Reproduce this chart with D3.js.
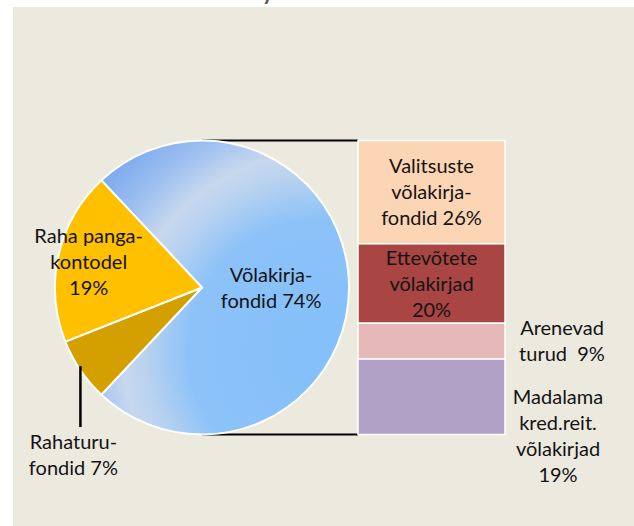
<!DOCTYPE html>
<html>
<head>
<meta charset="utf-8">
<script src="https://cdn.jsdelivr.net/npm/d3@7/dist/d3.min.js"></script>
<style>
    html, body { margin: 0; padding: 0; background: #fff; }
    svg text { font-family: Lato, "Noto Sans", sans-serif; fill: #141414; white-space: pre; }
</style>
</head>
<body>
<script>
(function(window){
    'use strict'

    // main pie
    var pieNames = ["Võlakirjafondid", "Rahaturufondid", "Raha pangakontodel"];
    var pieValues = [74, 7, 19];
    var pieLabelLines = [["Võlakirja-", "fondid 74%"], ["Rahaturu-", "fondid 7%"], ["Raha panga-", "kontodel", "19%"]];
    var pieColors = ["url(#blueFill)", "#d4a000", "#ffc000"];

    // split of the first slice
    var barNames = ["Valitsuste võlakirjafondid", "Ettevõtete võlakirjad", "Arenevad turud", "Madalama kred.reit. võlakirjad"];
    var barValues = [26, 20, 9, 19];
    var barLabelLines = [["Valitsuste", "võlakirja-", "fondid 26%"], ["Ettevõtete", "võlakirjad", "20%"], ["Arenevad", "turud  9%"], ["Madalama", "kred.reit.", "võlakirjad", "19%"]];
    var barColors = ["#fcd5b5", "#a94543", "#e6b9b8", "#b2a1c7"];

    var config = {
        width: 634,
        height: 526,
        cx: 202,
        cy: 287.5,
        radius: 147,
        barX: 358,
        barW: 147,
        lineH: 26,
        fontSize: 20
    };

    var svg = d3.select("body").append("svg")
        .attr("width", config.width)
        .attr("height", config.height);

    var defs = svg.append("defs");
    var grad = defs.append("radialGradient")
        .attr("id", "blueFill")
        .attr("gradientUnits", "userSpaceOnUse")
        .attr("cx", 320).attr("cy", 350).attr("r", 290)
        .attr("fx", 320).attr("fy", 350);
    [[0, "#84c0fa"], [0.45, "#8cc2f8"], [0.6, "#b8d2f0"], [0.68, "#c7d8ee"], [0.8, "#9fc0f0"], [1, "#70a3ef"]].forEach(function(s) {
        grad.append("stop").attr("offset", s[0]).attr("stop-color", s[1]);
    });

    // background panel
    svg.append("rect")
        .attr("x", 13).attr("y", 7)
        .attr("width", config.width - 13).attr("height", config.height - 7)
        .attr("fill", "#ece9df");

    // bit of the title cut off at the top
    svg.append("text")
        .attr("x", 262).attr("y", 0)
        .style("font-size", "22px").style("font-weight", "bold").style("fill", "#595959")
        .text("y");

    function multiLine(g, lines, x, yCenter, anchor) {
        var t = g.append("text")
            .attr("text-anchor", anchor || "middle")
            .style("font-size", config.fontSize + "px");
        var y0 = yCenter - (lines.length - 1) * config.lineH / 2;
        lines.forEach(function(l, i) {
            t.append("tspan")
                .attr("x", x)
                .attr("y", y0 + i * config.lineH)
                .attr("dy", "0.35em")
                .text(l);
        });
        return t;
    }

    var top = config.cy - config.radius,
        bottom = config.cy + config.radius;

    // connector lines (behind pie)
    svg.append("g").selectAll("line")
        .data([top, bottom])
        .enter().append("line")
        .attr("x1", config.cx).attr("x2", config.barX)
        .attr("y1", function(d) { return d; }).attr("y2", function(d) { return d; })
        .attr("stroke", "#000").attr("stroke-width", 2);

    // pie
    var share0 = pieValues[0] / d3.sum(pieValues);
    var pie = d3.pie()
        .sort(null)
        .value(function(d) { return d; })
        .startAngle(Math.PI / 2 - Math.PI * share0)
        .endAngle(Math.PI / 2 - Math.PI * share0 + 2 * Math.PI);

    var arc = d3.arc().innerRadius(0).outerRadius(config.radius);
    var arcs = pie(pieValues);

    var pg = svg.append("g")
        .attr("transform", "translate(" + config.cx + "," + config.cy + ")");

    pg.selectAll("path")
        .data(arcs)
        .enter().append("path")
        .attr("d", arc)
        .attr("fill", function(d, i) { return pieColors[i]; })
        .attr("stroke", "#fff").attr("stroke-width", 2);

    // gradient is in svg coords, so shift it into the group coords
    grad.attr("gradientTransform", "translate(" + (-config.cx) + "," + (-config.cy) + ")");

    var labelRadius = [0.47, null, 0.79];
    arcs.forEach(function(a, i) {
        var mid = (a.startAngle + a.endAngle) / 2;
        if(labelRadius[i] !== null) {
            var rr = labelRadius[i] * config.radius;
            multiLine(pg, pieLabelLines[i], Math.sin(mid) * rr, -Math.cos(mid) * rr);
        } else {
            var ex = Math.sin(mid) * config.radius,
                ey = -Math.cos(mid) * config.radius;
            pg.append("line")
                .attr("x1", ex).attr("x2", ex)
                .attr("y1", ey - 4).attr("y2", 139.5)
                .attr("stroke", "#000").attr("stroke-width", 2.5);
            multiLine(pg, pieLabelLines[i], ex - 7, 167);
        }
    });

    // stacked bar for the split slice
    var y = d3.scaleLinear()
        .domain([0, d3.sum(barValues)])
        .range([top, bottom]);

    var stacked = [], acc = 0;
    barValues.forEach(function(v, i) {
        stacked.push({ name: barNames[i], y0: acc, y1: acc + v, i: i });
        acc += v;
    });

    var bg = svg.append("g");
    bg.selectAll("rect")
        .data(stacked)
        .enter().append("rect")
        .attr("x", config.barX)
        .attr("y", function(d) { return y(d.y0); })
        .attr("width", config.barW)
        .attr("height", function(d) { return y(d.y1) - y(d.y0); })
        .attr("fill", function(d) { return barColors[d.i]; })
        .attr("stroke", "#fff").attr("stroke-width", 1.5);

    stacked.forEach(function(d) {
        var mid = (y(d.y0) + y(d.y1)) / 2;
        var lines = barLabelLines[d.i];
        if(d.i < 2) {
            multiLine(bg, lines, config.barX + config.barW / 2, mid);
        } else if(d.i === 2) {
            multiLine(bg, lines, 562, mid);
        } else {
            multiLine(bg, lines, 558, mid + (lines.length - 1) * config.lineH / 2);
        }
    });

})(window);
</script>
</body>
</html>
